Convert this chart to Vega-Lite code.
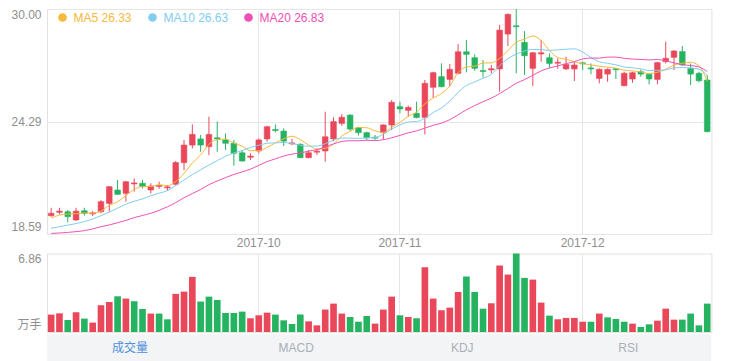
{
"$schema": "https://vega.github.io/schema/vega-lite/v6.json",
"background": "white",
"padding": {"left": 10, "top": 7, "right": 23, "bottom": 0},
"config": {
  "font": "Liberation Sans",
  "view": {"stroke": "#e2e2e2"},
  "axis": {"labelFont": "Liberation Sans, Noto Sans CJK SC", "labelFontSize": 12, "labelColor": "#8f8f8f", "ticks": false, "domain": false, "gridColor": "#e6e6e6"}
},
"datasets": {
"k": [
{"d":"2017-08-28","o":19.52,"h":19.92,"l":19.47,"c":19.64,"dir":"up","v":1.52,"vdir":"up","ma5":19.40,"ma10":18.88,"ma20":18.62},
{"d":"2017-08-29","o":19.69,"h":19.92,"l":19.59,"c":19.75,"dir":"up","v":1.63,"vdir":"up","ma5":19.55,"ma10":18.96,"ma20":18.64},
{"d":"2017-08-30","o":19.72,"h":19.81,"l":19.18,"c":19.47,"dir":"down","v":1.05,"vdir":"down","ma5":19.60,"ma10":19.04,"ma20":18.67},
{"d":"2017-08-31","o":19.30,"h":19.92,"l":19.25,"c":19.75,"dir":"up","v":1.72,"vdir":"up","ma5":19.62,"ma10":19.12,"ma20":18.71},
{"d":"2017-09-01","o":19.77,"h":19.92,"l":19.52,"c":19.64,"dir":"down","v":1.17,"vdir":"down","ma5":19.65,"ma10":19.22,"ma20":18.76},
{"d":"2017-09-04","o":19.61,"h":19.75,"l":19.50,"c":19.66,"dir":"up","v":0.82,"vdir":"up","ma5":19.65,"ma10":19.35,"ma20":18.85},
{"d":"2017-09-05","o":19.72,"h":20.31,"l":19.64,"c":20.23,"dir":"up","v":2.34,"vdir":"up","ma5":19.75,"ma10":19.52,"ma20":18.96},
{"d":"2017-09-06","o":20.14,"h":21.02,"l":19.72,"c":20.99,"dir":"up","v":2.63,"vdir":"up","ma5":20.05,"ma10":19.70,"ma20":19.05},
{"d":"2017-09-07","o":20.82,"h":21.33,"l":20.57,"c":20.60,"dir":"down","v":3.12,"vdir":"down","ma5":20.22,"ma10":19.90,"ma20":19.16},
{"d":"2017-09-08","o":20.65,"h":21.28,"l":20.23,"c":21.24,"dir":"up","v":2.92,"vdir":"up","ma5":20.54,"ma10":20.10,"ma20":19.28},
{"d":"2017-09-11","o":21.13,"h":21.41,"l":20.74,"c":21.18,"dir":"up","v":2.69,"vdir":"down","ma5":20.85,"ma10":20.25,"ma20":19.42},
{"d":"2017-09-12","o":21.16,"h":21.33,"l":20.90,"c":20.99,"dir":"down","v":2.01,"vdir":"down","ma5":21.00,"ma10":20.37,"ma20":19.53},
{"d":"2017-09-13","o":20.82,"h":21.16,"l":20.65,"c":21.02,"dir":"up","v":1.61,"vdir":"up","ma5":21.00,"ma10":20.53,"ma20":19.64},
{"d":"2017-09-14","o":21.00,"h":21.24,"l":20.87,"c":21.05,"dir":"up","v":1.61,"vdir":"down","ma5":21.09,"ma10":20.66,"ma20":19.79},
{"d":"2017-09-15","o":20.93,"h":21.07,"l":20.77,"c":20.98,"dir":"up","v":1.11,"vdir":"down","ma5":21.04,"ma10":20.79,"ma20":19.97},
{"d":"2017-09-18","o":21.11,"h":22.29,"l":21.04,"c":22.21,"dir":"up","v":3.33,"vdir":"up","ma5":21.25,"ma10":21.05,"ma20":20.18},
{"d":"2017-09-19","o":22.21,"h":23.36,"l":21.83,"c":23.10,"dir":"up","v":3.53,"vdir":"up","ma5":21.67,"ma10":21.33,"ma20":20.43},
{"d":"2017-09-20","o":23.10,"h":24.15,"l":22.93,"c":23.64,"dir":"up","v":4.82,"vdir":"up","ma5":22.19,"ma10":21.60,"ma20":20.64},
{"d":"2017-09-21","o":23.41,"h":23.61,"l":22.76,"c":23.10,"dir":"down","v":2.66,"vdir":"down","ma5":22.60,"ma10":21.85,"ma20":20.85},
{"d":"2017-09-22","o":23.02,"h":24.54,"l":22.59,"c":23.64,"dir":"up","v":3.09,"vdir":"down","ma5":23.14,"ma10":22.09,"ma20":21.09},
{"d":"2017-09-25","o":23.47,"h":24.29,"l":22.76,"c":23.41,"dir":"down","v":2.80,"vdir":"down","ma5":23.38,"ma10":22.31,"ma20":21.28},
{"d":"2017-09-26","o":23.36,"h":23.69,"l":22.85,"c":23.19,"dir":"down","v":1.66,"vdir":"down","ma5":23.40,"ma10":22.53,"ma20":21.45},
{"d":"2017-09-27","o":23.19,"h":23.36,"l":22.05,"c":22.68,"dir":"down","v":1.66,"vdir":"down","ma5":23.20,"ma10":22.70,"ma20":21.61},
{"d":"2017-09-28","o":22.71,"h":22.85,"l":22.26,"c":22.29,"dir":"down","v":1.78,"vdir":"down","ma5":23.04,"ma10":22.82,"ma20":21.74},
{"d":"2017-09-29","o":22.48,"h":22.68,"l":22.34,"c":22.54,"dir":"up","v":1.20,"vdir":"up","ma5":22.82,"ma10":22.98,"ma20":21.88},
{"d":"2017-10-09","o":22.80,"h":23.44,"l":22.68,"c":23.36,"dir":"up","v":1.46,"vdir":"up","ma5":22.81,"ma10":23.09,"ma20":22.07},
{"d":"2017-10-10","o":23.41,"h":24.08,"l":23.27,"c":24.03,"dir":"up","v":1.69,"vdir":"up","ma5":22.98,"ma10":23.19,"ma20":22.26},
{"d":"2017-10-11","o":23.89,"h":24.15,"l":23.74,"c":23.84,"dir":"down","v":1.52,"vdir":"down","ma5":23.21,"ma10":23.21,"ma20":22.40},
{"d":"2017-10-12","o":23.81,"h":23.95,"l":23.05,"c":23.30,"dir":"down","v":1.02,"vdir":"down","ma5":23.41,"ma10":23.23,"ma20":22.54},
{"d":"2017-10-13","o":23.16,"h":23.41,"l":23.10,"c":23.21,"dir":"up","v":0.70,"vdir":"down","ma5":23.55,"ma10":23.18,"ma20":22.64},
{"d":"2017-10-16","o":23.14,"h":23.19,"l":22.43,"c":22.46,"dir":"down","v":1.52,"vdir":"down","ma5":23.37,"ma10":23.09,"ma20":22.70},
{"d":"2017-10-17","o":22.46,"h":22.85,"l":22.43,"c":22.71,"dir":"up","v":0.93,"vdir":"up","ma5":23.10,"ma10":23.04,"ma20":22.79},
{"d":"2017-10-18","o":22.74,"h":22.93,"l":22.60,"c":22.79,"dir":"up","v":0.58,"vdir":"up","ma5":22.89,"ma10":23.05,"ma20":22.87},
{"d":"2017-10-19","o":22.80,"h":24.79,"l":22.26,"c":23.52,"dir":"up","v":1.96,"vdir":"up","ma5":22.93,"ma10":23.17,"ma20":23.00},
{"d":"2017-10-20","o":23.41,"h":24.51,"l":23.30,"c":24.29,"dir":"up","v":2.48,"vdir":"up","ma5":23.15,"ma10":23.35,"ma20":23.16},
{"d":"2017-10-23","o":24.20,"h":24.67,"l":24.08,"c":24.51,"dir":"up","v":1.61,"vdir":"up","ma5":23.56,"ma10":23.46,"ma20":23.28},
{"d":"2017-10-24","o":24.62,"h":24.66,"l":23.81,"c":23.91,"dir":"down","v":1.31,"vdir":"down","ma5":23.80,"ma10":23.45,"ma20":23.32},
{"d":"2017-10-25","o":23.98,"h":24.03,"l":23.58,"c":23.73,"dir":"down","v":0.90,"vdir":"down","ma5":23.99,"ma10":23.44,"ma20":23.32},
{"d":"2017-10-26","o":23.73,"h":23.78,"l":23.36,"c":23.47,"dir":"down","v":1.40,"vdir":"down","ma5":23.98,"ma10":23.46,"ma20":23.34},
{"d":"2017-10-27","o":23.50,"h":23.61,"l":23.37,"c":23.45,"dir":"down","v":0.73,"vdir":"up","ma5":23.82,"ma10":23.48,"ma20":23.33},
{"d":"2017-10-30","o":23.73,"h":24.15,"l":23.36,"c":24.12,"dir":"up","v":1.96,"vdir":"up","ma5":23.74,"ma10":23.65,"ma20":23.37},
{"d":"2017-10-31","o":24.12,"h":25.38,"l":23.86,"c":25.27,"dir":"up","v":3.09,"vdir":"up","ma5":24.01,"ma10":23.91,"ma20":23.47},
{"d":"2017-11-01","o":25.05,"h":25.30,"l":24.71,"c":24.93,"dir":"down","v":1.46,"vdir":"down","ma5":24.25,"ma10":24.12,"ma20":23.59},
{"d":"2017-11-02","o":24.86,"h":25.10,"l":24.54,"c":25.01,"dir":"up","v":1.31,"vdir":"up","ma5":24.56,"ma10":24.27,"ma20":23.72},
{"d":"2017-11-03","o":24.71,"h":25.30,"l":24.45,"c":24.50,"dir":"down","v":1.20,"vdir":"down","ma5":24.77,"ma10":24.29,"ma20":23.82},
{"d":"2017-11-06","o":24.50,"h":26.40,"l":23.64,"c":26.23,"dir":"up","v":5.66,"vdir":"up","ma5":25.19,"ma10":24.46,"ma20":23.96},
{"d":"2017-11-07","o":26.03,"h":26.82,"l":25.50,"c":26.77,"dir":"up","v":2.92,"vdir":"up","ma5":25.49,"ma10":24.75,"ma20":24.10},
{"d":"2017-11-08","o":26.57,"h":27.24,"l":26.03,"c":26.06,"dir":"down","v":1.90,"vdir":"up","ma5":25.71,"ma10":24.98,"ma20":24.21},
{"d":"2017-11-09","o":26.43,"h":27.21,"l":26.06,"c":26.94,"dir":"up","v":2.13,"vdir":"up","ma5":26.10,"ma10":25.33,"ma20":24.39},
{"d":"2017-11-10","o":26.74,"h":28.22,"l":26.69,"c":27.83,"dir":"up","v":3.50,"vdir":"up","ma5":26.77,"ma10":25.77,"ma20":24.63},
{"d":"2017-11-13","o":27.83,"h":28.43,"l":26.79,"c":27.70,"dir":"down","v":4.85,"vdir":"down","ma5":27.06,"ma10":26.12,"ma20":24.89},
{"d":"2017-11-14","o":27.53,"h":27.70,"l":26.87,"c":26.99,"dir":"down","v":3.50,"vdir":"down","ma5":27.10,"ma10":26.30,"ma20":25.10},
{"d":"2017-11-15","o":26.88,"h":27.41,"l":26.53,"c":26.83,"dir":"down","v":2.04,"vdir":"down","ma5":27.26,"ma10":26.49,"ma20":25.30},
{"d":"2017-11-16","o":26.91,"h":27.16,"l":26.74,"c":26.97,"dir":"up","v":2.51,"vdir":"up","ma5":27.27,"ma10":26.68,"ma20":25.48},
{"d":"2017-11-17","o":26.96,"h":29.19,"l":25.81,"c":28.93,"dir":"up","v":5.81,"vdir":"up","ma5":27.49,"ma10":27.13,"ma20":25.71},
{"d":"2017-11-20","o":28.73,"h":29.78,"l":28.12,"c":29.73,"dir":"up","v":5.02,"vdir":"up","ma5":27.89,"ma10":27.48,"ma20":25.97},
{"d":"2017-11-21","o":29.15,"h":30.00,"l":26.74,"c":29.10,"dir":"down","v":6.86,"vdir":"down","ma5":28.31,"ma10":27.71,"ma20":26.23},
{"d":"2017-11-22","o":28.31,"h":28.88,"l":26.65,"c":27.63,"dir":"down","v":4.73,"vdir":"down","ma5":28.47,"ma10":27.87,"ma20":26.42},
{"d":"2017-11-23","o":26.99,"h":27.83,"l":26.09,"c":27.78,"dir":"up","v":4.58,"vdir":"up","ma5":28.63,"ma10":27.95,"ma20":26.64},
{"d":"2017-11-24","o":27.72,"h":28.43,"l":27.33,"c":27.78,"dir":"up","v":2.57,"vdir":"up","ma5":28.40,"ma10":27.94,"ma20":26.86},
{"d":"2017-11-27","o":27.53,"h":27.75,"l":27.02,"c":27.24,"dir":"down","v":1.43,"vdir":"down","ma5":27.90,"ma10":27.90,"ma20":27.01},
{"d":"2017-11-28","o":27.25,"h":27.50,"l":26.96,"c":27.30,"dir":"up","v":1.11,"vdir":"up","ma5":27.54,"ma10":27.93,"ma20":27.11},
{"d":"2017-11-29","o":26.96,"h":27.58,"l":26.91,"c":27.19,"dir":"up","v":1.23,"vdir":"up","ma5":27.45,"ma10":27.96,"ma20":27.23},
{"d":"2017-11-30","o":26.96,"h":27.33,"l":26.35,"c":27.16,"dir":"up","v":1.23,"vdir":"up","ma5":27.33,"ma10":27.98,"ma20":27.33},
{"d":"2017-12-01","o":27.27,"h":27.33,"l":26.91,"c":27.22,"dir":"down","v":0.90,"vdir":"up","ma5":27.22,"ma10":27.81,"ma20":27.47},
{"d":"2017-12-04","o":27.01,"h":27.24,"l":26.69,"c":26.96,"dir":"down","v":0.90,"vdir":"down","ma5":27.17,"ma10":27.54,"ma20":27.51},
{"d":"2017-12-05","o":26.48,"h":26.99,"l":26.23,"c":26.94,"dir":"up","v":1.61,"vdir":"up","ma5":27.10,"ma10":27.32,"ma20":27.51},
{"d":"2017-12-06","o":26.70,"h":26.99,"l":26.31,"c":26.94,"dir":"up","v":1.28,"vdir":"down","ma5":27.05,"ma10":27.25,"ma20":27.56},
{"d":"2017-12-07","o":26.97,"h":26.99,"l":26.45,"c":26.92,"dir":"down","v":1.14,"vdir":"down","ma5":27.00,"ma10":27.17,"ma20":27.56},
{"d":"2017-12-08","o":26.11,"h":26.82,"l":26.09,"c":26.74,"dir":"up","v":0.90,"vdir":"down","ma5":26.90,"ma10":27.06,"ma20":27.50},
{"d":"2017-12-11","o":26.45,"h":26.82,"l":26.26,"c":26.77,"dir":"up","v":0.73,"vdir":"up","ma5":26.86,"ma10":27.02,"ma20":27.46},
{"d":"2017-12-12","o":26.82,"h":26.94,"l":26.57,"c":26.70,"dir":"down","v":0.44,"vdir":"down","ma5":26.81,"ma10":26.96,"ma20":27.44},
{"d":"2017-12-13","o":26.69,"h":26.74,"l":26.18,"c":26.45,"dir":"down","v":0.67,"vdir":"down","ma5":26.72,"ma10":26.88,"ma20":27.42},
{"d":"2017-12-14","o":26.43,"h":27.33,"l":26.18,"c":27.28,"dir":"up","v":0.99,"vdir":"up","ma5":26.79,"ma10":26.89,"ma20":27.44},
{"d":"2017-12-15","o":27.33,"h":28.34,"l":27.24,"c":27.50,"dir":"up","v":2.04,"vdir":"up","ma5":26.94,"ma10":26.92,"ma20":27.37},
{"d":"2017-12-18","o":27.55,"h":27.92,"l":26.91,"c":27.87,"dir":"up","v":1.08,"vdir":"up","ma5":27.16,"ma10":27.01,"ma20":27.27},
{"d":"2017-12-19","o":27.84,"h":28.12,"l":27.11,"c":27.16,"dir":"down","v":1.08,"vdir":"down","ma5":27.25,"ma10":27.03,"ma20":27.18},
{"d":"2017-12-20","o":26.99,"h":27.24,"l":26.14,"c":26.70,"dir":"down","v":1.61,"vdir":"down","ma5":27.30,"ma10":27.01,"ma20":27.13},
{"d":"2017-12-21","o":26.74,"h":26.82,"l":26.28,"c":26.36,"dir":"down","v":0.58,"vdir":"down","ma5":27.12,"ma10":26.95,"ma20":27.06},
{"d":"2017-12-22","o":26.40,"h":26.65,"l":23.74,"c":23.78,"dir":"down","v":2.48,"vdir":"down","ma5":26.33,"ma10":26.63,"ma20":26.83}
],
"tabs": [{"tab":"成交量"},{"tab":"MACD"},{"tab":"KDJ"},{"tab":"RSI"}]
},
"spacing": 1.5,
"resolve": {"scale": {"x": "independent", "y": "independent"}},
"vconcat": [
  {
    "width": 664.4,
    "height": 225,
    "data": {"name": "k"},
    "encoding": {
      "x": {"field": "d", "type": "ordinal", "sort": null, "title": null,
            "scale": {"paddingInner": 0, "paddingOuter": 0},
            "axis": {"values": ["2017-10-09","2017-11-01","2017-12-01"], "labelExpr": "slice(datum.value, 0, 7)", "labelAngle": 0, "labelPadding": 4, "grid": true}}
    },
    "layer": [
      {
        "mark": {"type": "rule", "strokeWidth": 1},
        "encoding": {
          "y": {"field": "l", "type": "quantitative", "title": null,
                "scale": {"domain": [18.59, 30], "nice": false, "zero": false},
                "axis": {"values": [18.59, 24.29, 30], "format": ".2f", "labelFlush": true, "labelPadding": 6, "grid": true}},
          "y2": {"field": "h"},
          "color": {"field": "dir", "type": "nominal",
                    "scale": {"domain": ["ma5","ma10","ma20","up","down"], "range": ["#f6b93b","#80cdf0","#f050b5","#e9475a","#26b361"]}}
        }
      },
      {
        "mark": {"type": "bar", "width": {"band": 0.68}, "strokeWidth": 0.6},
        "encoding": {
          "y": {"field": "o", "type": "quantitative", "title": null},
          "y2": {"field": "c"},
          "color": {"field": "dir", "type": "nominal",
                    "scale": {"domain": ["ma5","ma10","ma20","up","down"], "range": ["#f6b93b","#80cdf0","#f050b5","#e9475a","#26b361"]}},
          "stroke": {"field": "dir", "type": "nominal", "legend": null,
                    "scale": {"domain": ["up","down"], "range": ["#e9475a","#26b361"]}}
        }
      },
      {
        "transform": [{"fold": ["ma5","ma10","ma20"], "as": ["ma","val"]}],
        "mark": {"type": "line", "strokeWidth": 1, "interpolate": "monotone"},
        "encoding": {
          "y": {"field": "val", "type": "quantitative", "title": null},
          "color": {"field": "ma", "type": "nominal",
                    "scale": {"domain": ["ma5","ma10","ma20","up","down"], "range": ["#f6b93b","#80cdf0","#f050b5","#e9475a","#26b361"]},
                    "legend": {"orient": "none", "legendX": 9.5, "legendY": 2.5, "direction": "horizontal",
                               "values": ["ma5","ma10","ma20"],
                               "labelExpr": "datum.label == 'ma5' ? 'MA5 26.33' : datum.label == 'ma10' ? 'MA10 26.63' : 'MA20 26.83'",
                               "title": null, "symbolType": "circle", "symbolSize": 75, "symbolStrokeWidth": 0,
                               "labelFont": "Liberation Sans", "labelFontSize": 12, "labelOffset": 5, "columnPadding": 14,
                               "encode": {"symbols": {"update": {"fill": {"scale": "color", "field": "value"}, "stroke": {"value": "transparent"}, "opacity": {"value": 1}}},
                                          "labels": {"update": {"fill": {"scale": "color", "field": "value"}}}}}}
        }
      }
    ]
  },
  {
    "width": 664.4,
    "height": 78.5,
    "data": {"name": "k"},
    "mark": {"type": "bar", "width": {"band": 0.8}},
    "encoding": {
      "x": {"field": "d", "type": "ordinal", "sort": null, "title": null,
            "scale": {"paddingInner": 0, "paddingOuter": 0},
            "axis": {"values": ["2017-10-09","2017-11-01","2017-12-01"], "labels": false, "grid": true}},
      "y": {"field": "v", "type": "quantitative", "title": null,
            "scale": {"domain": [0, 6.86], "nice": false},
            "axis": {"values": [0, 6.86], "labelExpr": "datum.value == 0 ? '万手' : '6.86'", "labelFlush": true, "labelPadding": 6, "grid": false}},
      "color": {"field": "vdir", "type": "nominal",
                "scale": {"domain": ["ma5","ma10","ma20","up","down"], "range": ["#f6b93b","#80cdf0","#f050b5","#e9475a","#26b361"]}}
    }
  },
  {
    "width": 664.4,
    "height": 27.5,
    "data": {"name": "tabs"},
    "view": {"fill": "#f2f4f6", "stroke": null},
    "mark": {"type": "text", "fontSize": 12, "font": "Liberation Sans, Noto Sans CJK SC", "baseline": "middle"},
    "encoding": {
      "x": {"field": "tab", "type": "nominal", "sort": null, "axis": null,
            "scale": {"paddingInner": 0, "paddingOuter": 0}},
      "text": {"field": "tab"},
      "color": {"condition": {"test": "datum.tab === '成交量'", "value": "#4f8fdc"}, "value": "#a9afb7"}
    }
  }
]
}
